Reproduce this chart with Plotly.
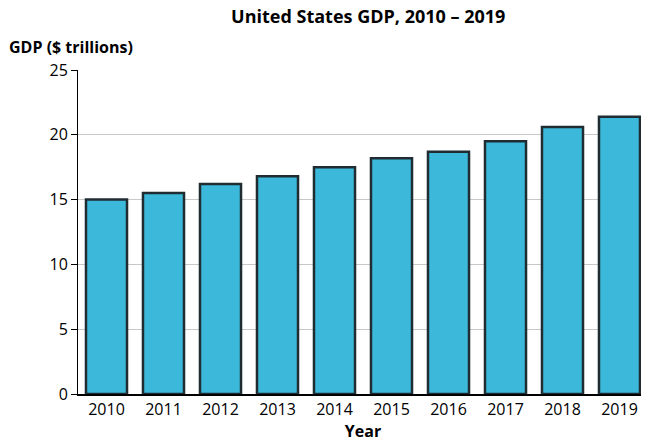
import plotly.graph_objects as go

years = ["2010", "2011", "2012", "2013", "2014", "2015", "2016", "2017", "2018", "2019"]
gdp = [15.0, 15.5, 16.2, 16.8, 17.5, 18.2, 18.7, 19.5, 20.6, 21.4]

fig = go.Figure(go.Bar(
    x=years, y=gdp,
    marker=dict(color="#3BB8DA", line=dict(color="#1f2d33", width=2.5)),
    width=0.72,
))

fig.update_layout(
    width=649, height=440,
    margin=dict(l=70, r=9, t=62, b=54),
    plot_bgcolor="white", paper_bgcolor="white",
    font=dict(family="Open Sans", size=16, color="black"),
    title=dict(text="<b>United States GDP, 2010 – 2019</b>", x=0.555, xanchor="center",
               y=0.995, yanchor="top", font=dict(size=18)),
    showlegend=False,
    bargap=0.28,
)
fig.update_yaxes(range=[0, 25], dtick=5, showgrid=True, gridcolor="#c8c8c8",
                 showline=True, linecolor="black", linewidth=1,
                 ticks="outside", ticklen=6, tickcolor="black", zeroline=False)
fig.update_xaxes(showline=True, linecolor="black", linewidth=1.5,
                 title=dict(text="<b>Year</b>", standoff=2, font=dict(size=16)))
fig.add_annotation(text="<b>GDP ($ trillions)</b>", xref="paper", yref="paper",
                   x=-0.125, y=1.03, xanchor="left", yanchor="bottom",
                   showarrow=False, font=dict(size=16))

fig.write_html("out.html")
